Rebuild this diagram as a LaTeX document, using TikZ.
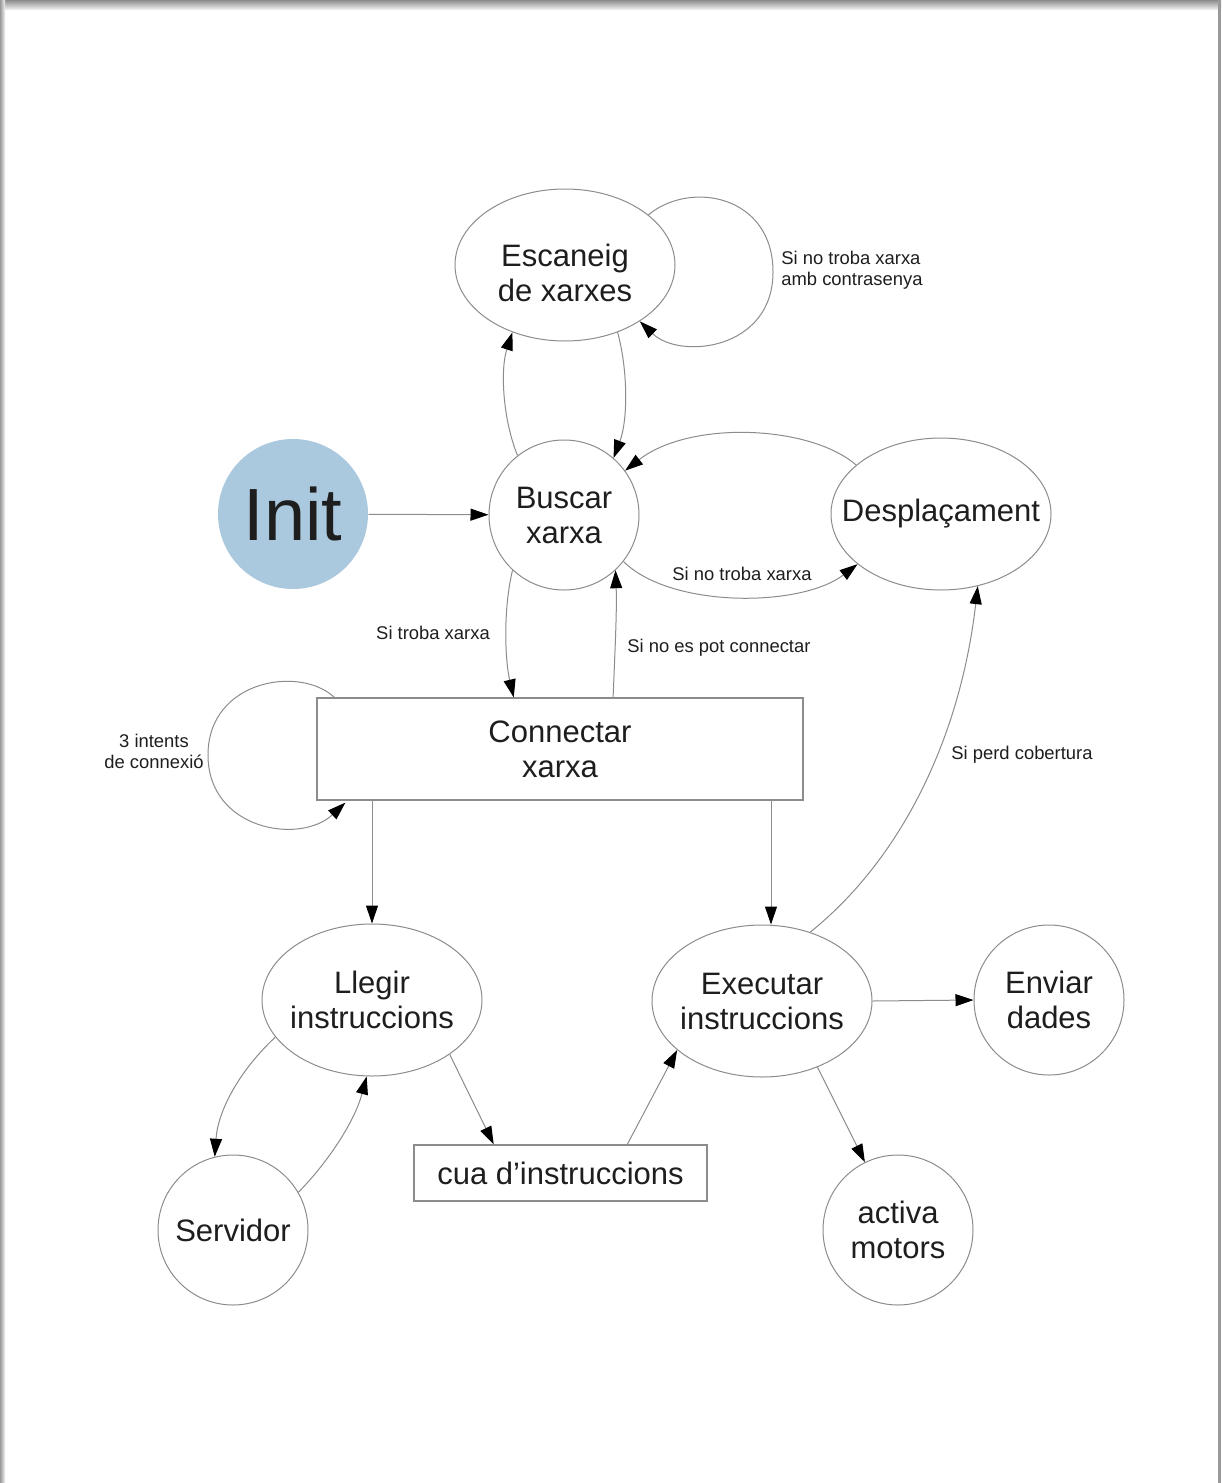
\documentclass[tikz,border=0pt]{standalone}
\usepackage{fontspec}
\setmainfont{Liberation Sans}
\usetikzlibrary{shapes.geometric,arrows.meta,calc}
\definecolor{initblue}{RGB}{170,200,222}
\definecolor{edgegray}{RGB}{140,140,140}
\definecolor{txt}{RGB}{30,30,30}
\begin{document}
\begin{tikzpicture}[x=0.5pt,y=-0.5pt,
  every node/.style={text=txt},
  big/.style={font=\fontsize{15.5}{17.5}\selectfont, align=center, inner sep=0pt},
  ell/.style={big, ellipse, draw=edgegray, line width=0.5pt, inner xsep=-15pt, minimum width=110pt, minimum height=76pt},
  circ/.style={big, circle, draw=edgegray, line width=0.5pt, minimum size=75pt},
  boxx/.style={big, rectangle, draw=edgegray, line width=0.6pt},
  lbl/.style={font=\fontsize{9.2}{10.5}\selectfont, inner sep=0pt},
  arr/.style={draw=edgegray, line width=0.5pt, -{Triangle[length=9pt,width=6pt,color=black]}}
]
\useasboundingbox (0,0) rectangle (1221,1483);
% page frame
\fill[white] (0,0) rectangle (1221,1483);
\shade[top color=black!45, bottom color=black!8] (0,0) rectangle (1221,9);
\shade[left color=black!40, right color=black!5] (0,0) rectangle (5,1483);
\fill[black!40] (1218,0) rectangle (1221,1483);

% nodes
\node[ell, label={[big, yshift=-4pt]center:{Escaneig\\de xarxes}}] (esc) at (565,265) {};
\node[circ] (busc) at (564,515) {Buscar\\xarxa};
\node[circ, draw=none, fill=initblue, font=\fontsize{37}{40}\selectfont] (init) at (293,514) {Init};
\node[ell] (desp) at (941,514) {Desplaçament};
\node[boxx, minimum width=243pt, minimum height=51pt] (conn) at (560,749) {Connectar\\xarxa};
\node[ell] (lleg) at (372,1000) {Llegir\\instruccions};
\node[ell] (exec) at (762,1001) {Executar\\instruccions};
\node[circ] (env) at (1049,1000) {Enviar\\dades};
\node[circ] (serv) at (233,1230) {Servidor};
\node[circ] (act) at (898,1230) {activa\\motors};
\node[boxx, minimum width=146.5pt, minimum height=28pt] (cua) at (560.5,1173) {cua d’instruccions};

% labels
\node[lbl, anchor=west, align=left] (l1) at (781,270) {Si no troba xarxa\\amb contrasenya};
\node[lbl] (l2) at (742,574) {Si no troba xarxa};
\node[lbl] (l3) at (433,633) {Si troba xarxa};
\node[lbl, anchor=west] (l4) at (627,648) {Si no es pot connectar};
\node[lbl, align=center] (l5) at (154,751) {3 intents\\de connexió};
\node[lbl] (l6) at (1022,755) {Si perd cobertura};

% helper coordinates
\coordinate (ctop1) at ($(conn.north west)!0.405!(conn.north east)$);
\coordinate (ctop2) at ($(conn.north west)!0.609!(conn.north east)$);
\coordinate (qtop1) at ($(cua.north west)!0.273!(cua.north east)$);
\coordinate (qtop2) at ($(cua.north west)!0.727!(cua.north east)$);
\coordinate (xtop) at ($(exec.north)+(9,0)$);
\coordinate (cl1) at ([xshift=9pt]conn.north west);
\coordinate (cl2) at ([xshift=14.5pt,yshift=-1pt]conn.south west);

% connectors
\draw[arr] (init) -- (busc);
\draw[arr] (busc.128) .. controls (503,420) and (500,370) .. (esc.-128);
\draw[arr] (esc.-52) .. controls (628,370) and (628,420) .. (busc.49);
\draw[arr] (esc.31) .. controls (690,180) and (773,195) .. (773,272)
                    .. controls (773,350) and (680,360) .. (esc.-37);
\draw[arr] (desp.150) .. controls (810,425) and (690,420) .. (busc.36);
\draw[arr] (busc.-38) .. controls (670,608) and (800,608) .. (desp.-149);
\draw[arr] (busc.-133) .. controls (503,610) and (505,660) .. (ctop1);
\draw[arr] (ctop2) .. controls (615,650) and (617,610) .. (busc.-47);
\draw[arr] (cl1) .. controls (300,665) and (208,680) .. (208,755)
                .. controls (208,830) and (300,845) .. (cl2);
\draw[arr] (conn.south -| lleg.north) -- (lleg.north);
\draw[arr] (xtop |- conn.south) -- (xtop);
\draw[arr] (exec.55) .. controls (900,860) and (960,740) .. (desp.-63);
\draw[arr] (exec.east) -- (env.west);
\draw[arr] (exec.-50) -- (act.116);
\draw[arr] (lleg.-159) .. controls (240,1070) and (218,1110) .. (serv.104);
\draw[arr] (serv.30) .. controls (330,1160) and (355,1120) .. (lleg.-94);
\draw[arr] (lleg.-35) -- (qtop1);
\draw[arr] (qtop2) -- (exec.-150);
\end{tikzpicture}
\end{document}
